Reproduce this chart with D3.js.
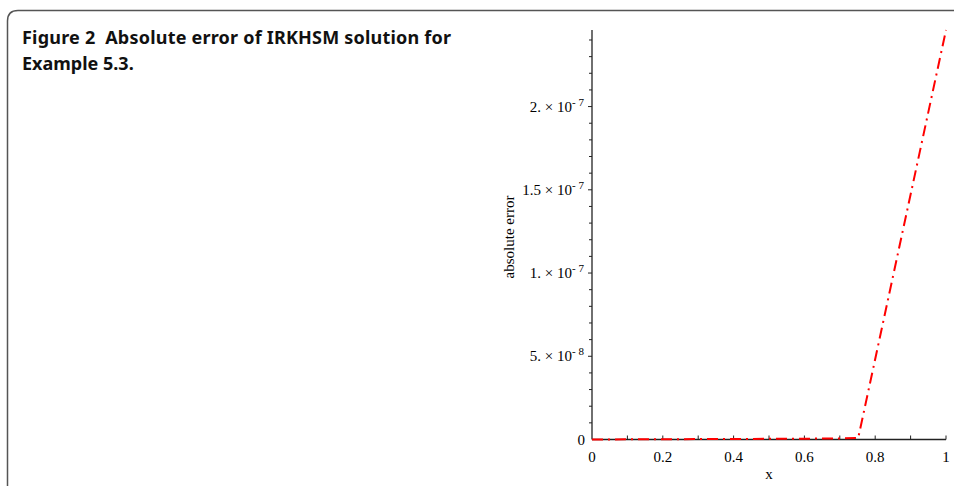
<!DOCTYPE html>
<meta charset="utf-8">
<style>
body { margin: 0; background: #fff; }
.tick-label { font: 15px "Liberation Serif", serif; fill: #000; }
.title { font: bold 18px "Noto Sans", sans-serif; fill: #111; white-space: pre; }
.frame { fill: none; stroke: #555; stroke-width: 1.5px; }
.axis-line { stroke: #222; stroke-width: 1.3px; }
.tick { stroke: #222; stroke-width: 1px; }
.err-line { fill: none; stroke: #ff0000; stroke-width: 2px; stroke-dasharray: 11 5 2 5; }
</style>
<svg width="954" height="488"></svg>
<script src="https://d3js.org/d3.v7.min.js"></script>
<script>
// values
var xValues = [0, 0.25, 0.5, 0.7, 0.752, 1];
var absError = [0, 2e-10, 4e-10, 6e-10, 9e-10, 2.46e-7];
var xTickLabels = ["0", "0.2", "0.4", "0.6", "0.8", "1"];
var yTickLabels = [
  { v: 5e-8, m: "5.", e: "-8" },
  { v: 1e-7, m: "1.", e: "-7" },
  { v: 1.5e-7, m: "1.5", e: "-7" },
  { v: 2e-7, m: "2.", e: "-7" }
];

var svg = d3.select("svg");

// card frame (rounded top-left, runs off right and bottom)
svg.append("path")
  .attr("class", "frame")
  .attr("d", "M954,10.5 L18,10.5 Q7.5,10.5 7.5,21 L7.5,486");

var title = svg.append("text").attr("class", "title").attr("x", 22).attr("y", 44);
title.append("tspan")
  .attr("textLength", 429).attr("lengthAdjust", "spacing")
  .text("Figure 2  Absolute error of IRKHSM solution for");
title.append("tspan").attr("x", 22).attr("y", 70).text("Example 5.3.");

var x = d3.scaleLinear().domain([0, 1]).range([592, 946]);
var y = d3.scaleLinear().domain([0, 2.46e-7]).range([439.5, 30]);

var g = svg.append("g");

// y minor/major ticks
d3.range(1, 25).forEach(function(i) {
  var v = i * 1e-8;
  g.append("line").attr("class", "tick")
    .attr("x1", x(0) - (i % 5 === 0 ? 4 : 3)).attr("x2", x(0))
    .attr("y1", y(v)).attr("y2", y(v));
});

// x ticks (pointing up)
d3.range(1, 11).forEach(function(i) {
  var v = i / 10;
  g.append("line").attr("class", "tick")
    .attr("x1", x(v)).attr("x2", x(v))
    .attr("y1", y(0)).attr("y2", y(0) - 4);
});

g.append("line").attr("class", "axis-line")
  .attr("x1", x(0)).attr("x2", x(0)).attr("y1", y(0)).attr("y2", 30);
g.append("line").attr("class", "axis-line")
  .attr("x1", x(0)).attr("x2", x(1)).attr("y1", y(0)).attr("y2", y(0));

// x tick labels
xTickLabels.forEach(function(t) {
  g.append("text").attr("class", "tick-label")
    .attr("x", x(+t)).attr("y", 462)
    .attr("text-anchor", "middle").text(t);
});
g.append("text").attr("class", "tick-label")
  .attr("x", (x(0) + x(1)) / 2).attr("y", 479)
  .attr("text-anchor", "middle").text("x");

// y tick labels
g.append("text").attr("class", "tick-label")
  .attr("x", x(0) - 7).attr("y", y(0) + 5)
  .attr("text-anchor", "end").text("0");
yTickLabels.forEach(function(t) {
  var tx = g.append("text").attr("class", "tick-label")
    .attr("x", x(0) - 8).attr("y", y(t.v) + 5)
    .attr("text-anchor", "end");
  tx.append("tspan").text(t.m + " \u00d7 10");
  tx.append("tspan").attr("dy", -6).attr("font-size", 11).text(t.e.replace("-", "- "));
});

g.append("text").attr("class", "tick-label")
  .attr("transform", "translate(514,237) rotate(-90)")
  .attr("text-anchor", "middle").text("absolute error");

var line = d3.line()
  .x(function(d, i) { return x(xValues[i]); })
  .y(function(d) { return y(d); });

g.append("path").attr("class", "err-line").attr("d", line(absError));
</script>
